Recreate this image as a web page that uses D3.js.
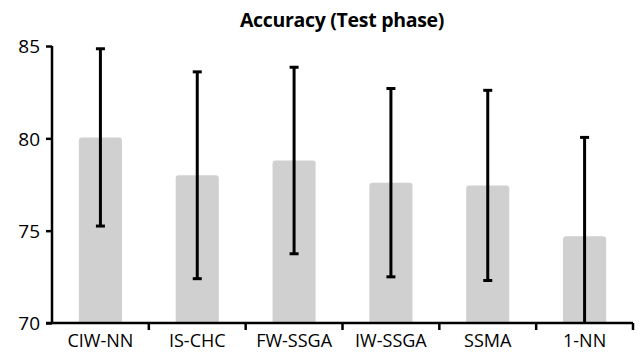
<!DOCTYPE html>
<html>
<head>
<meta charset="utf-8">
<script src="https://cdn.jsdelivr.net/npm/d3@7"></script>
<style>
  body { margin: 0; background: #fff; }
  text { font-family: "Open Sans", sans-serif; }
</style>
</head>
<body>
<div id="chart"></div>
<script>
// data
const methods = ["CIW-NN", "IS-CHC", "FW-SSGA", "IW-SSGA", "SSMA", "1-NN"];
const means = [80.05, 78.0, 78.8, 77.6, 77.45, 74.7];
const stdevs = [4.8, 5.6, 5.05, 5.1, 5.15, 5.35];
const yTicks = [70, 75, 80, 85];

const margin = {top: 46, right: 7, bottom: 30, left: 52};
const width = 640 - margin.left - margin.right;
const height = 353 - margin.top - margin.bottom;

var svg = d3.select("#chart")
    .append("svg")
    .attr("width", width + margin.left + margin.right)
    .attr("height", height + margin.top + margin.bottom)
    .append("g")
    .attr("transform", "translate(" + margin.left + "," + margin.top + ")");

var x = d3.scaleBand().domain(methods).range([0, width]).paddingInner(0.555).paddingOuter(0.2775);
var y = d3.scaleLinear().domain([70, 85]).range([height, 0]);

// title
svg.append("text")
    .attr("x", 290)
    .attr("y", -19)
    .attr("text-anchor", "middle")
    .style("font-size", "19.5px")
    .style("font-weight", "bold")
    .style("letter-spacing", "-0.3px")
    .text("Accuracy (Test phase)");

// bars
svg.selectAll("path.bar")
    .data(methods)
  .enter().append("path")
    .attr("class", "bar")
    .attr("fill", "#d0d0d0")
    .attr("d", function(d, i) {
        var x0 = x(d), w = x.bandwidth(), y0 = y(means[i]), r = 3;
        return "M" + x0 + "," + height + "V" + (y0 + r) + "Q" + x0 + "," + y0 + " " + (x0 + r) + "," + y0 +
            "H" + (x0 + w - r) + "Q" + (x0 + w) + "," + y0 + " " + (x0 + w) + "," + (y0 + r) + "V" + height + "Z";
    });

// error bars
var errs = svg.selectAll("g.err")
    .data(methods)
  .enter().append("g")
    .attr("class", "err")
    .attr("transform", d => "translate(" + (x(d) + x.bandwidth() / 2) + ",0)");

errs.append("line")
    .attr("y1", (d, i) => y(means[i] + stdevs[i]))
    .attr("y2", (d, i) => y(Math.max(70, means[i] - stdevs[i])))
    .attr("stroke", "#000")
    .attr("stroke-width", 3);

errs.append("line")
    .attr("x1", -4.5).attr("x2", 4.5)
    .attr("y1", (d, i) => y(means[i] + stdevs[i]))
    .attr("y2", (d, i) => y(means[i] + stdevs[i]))
    .attr("stroke", "#000")
    .attr("stroke-width", 3);

errs.filter((d, i) => means[i] - stdevs[i] > 70).append("line")
    .attr("x1", -4.5).attr("x2", 4.5)
    .attr("y1", d => y(means[methods.indexOf(d)] - stdevs[methods.indexOf(d)]))
    .attr("y2", d => y(means[methods.indexOf(d)] - stdevs[methods.indexOf(d)]))
    .attr("stroke", "#000")
    .attr("stroke-width", 3);

// y axis
var yAxis = svg.append("g")
    .call(d3.axisLeft(y).tickValues(yTicks).tickSize(6).tickPadding(6))
yAxis.selectAll("path, line").attr("stroke", "#000").attr("stroke-width", 2.5);
yAxis.select(".domain").attr("d", "M0," + (height + 1) + "V0");
yAxis.selectAll("text").style("font-size", "19px").attr("fill", "#000").attr("dy", "0.36em");

// x axis
var xAxis = svg.append("g")
    .attr("transform", "translate(0," + height + ")")
    .call(d3.axisBottom(x).tickSize(0).tickPadding(11));
xAxis.select(".domain").attr("d", "M-6,0H" + width).attr("stroke", "#000").attr("stroke-width", 2.5);
xAxis.selectAll("text").style("font-size", "18px").attr("fill", "#000");

// ticks between the categories
xAxis.selectAll("line.sep")
    .data(methods)
  .enter().append("line")
    .attr("class", "sep")
    .attr("x1", d => x(d) + x.bandwidth() + x.step() * x.paddingInner() / 2)
    .attr("x2", d => x(d) + x.bandwidth() + x.step() * x.paddingInner() / 2)
    .attr("y1", 0).attr("y2", 7)
    .attr("stroke", "#000")
    .attr("stroke-width", 2.5);
</script>
</body>
</html>
